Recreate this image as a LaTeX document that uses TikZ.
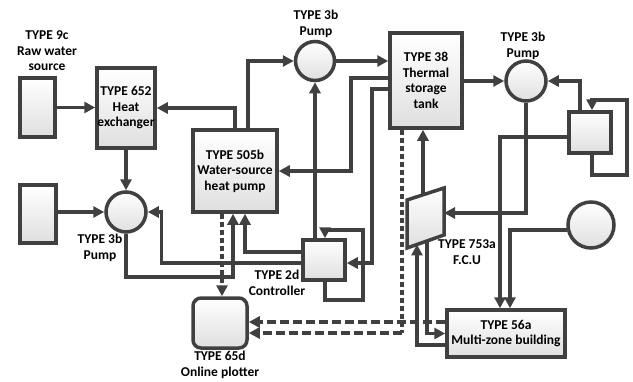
\documentclass[tikz,border=0pt]{standalone}
\usepackage{fontspec}
\setmainfont{Carlito}
\usetikzlibrary{arrows.meta,calc}
\definecolor{dk}{HTML}{404040}
\begin{document}
\begin{tikzpicture}[x=1pt,y=-1pt,
  every node/.style={font=\fontsize{13.5}{15.5}\selectfont\bfseries, align=center, inner sep=0pt, text=black},
  ln/.style={draw=dk, line width=3.5pt},
  arr/.style={ln, -{Triangle[length=11pt,width=11pt]}},
  fillst/.style={draw=dk, line width=3.5pt, top color=white, bottom color=gray!25},
  blk/.style={fillst, rectangle},
  pmp/.style={fillst, circle},
  dsh/.style={dash pattern=on 9pt off 4pt},
  dts/.style={dash pattern=on 5pt off 3pt}]
\useasboundingbox (0,0) rectangle (633,381);
% blocks
\node[blk, minimum width=35pt, minimum height=59pt] (raw) at (37.5,107.5) {};
\node[blk, minimum width=58pt, minimum height=80pt] (hx) at (126,108) {TYPE 652\\Heat\\exchanger};
\node[blk, minimum width=84pt, minimum height=82pt] (hp) at (235,171) {TYPE 505b\\Water-source\\heat pump};
\node[blk, minimum width=72pt, minimum height=95pt] (tank) at (426,80.5) {TYPE 38\\Thermal\\storage\\tank};
\node[blk, minimum width=42pt, minimum height=40pt] (ctrl) at (324,260) {};
\node[blk, minimum width=42pt, minimum height=41pt] (ctrlb) at (590,132.5) {};
\node[blk, minimum width=36pt, minimum height=58pt] (src) at (38,214) {};
\node[pmp, minimum size=40pt] (pumpa) at (126,212) {};
\node[pmp, minimum size=39pt] (pumpb) at (315,61) {};
\node[pmp, minimum size=40pt] (pumpc) at (526,81) {};
\node[pmp, minimum size=46pt] (circd) at (591,225) {};
\node[blk, rounded corners=8pt, minimum width=54pt, minimum height=50pt] (plot) at (220,323) {};
\node[blk, minimum width=118pt, minimum height=47pt] (bld) at (506,333.5) {TYPE 56a\\Multi-zone building};
% FCU
\coordinate (f1) at (407,200);
\coordinate (f2) at (444,188);
\coordinate (f3) at (444,235);
\coordinate (f4) at (407,248);
\path[fillst] (f1) -- (f2) -- (f3) -- (f4) -- cycle;
\coordinate (fcutop) at ($(f1)!0.432!(f2)$);
\coordinate (fcub1) at ($(f4)!0.27!(f3)$);
\coordinate (fcub2) at ($(f4)!0.54!(f3)$);
\coordinate (fcur) at ($(f2)!0.532!(f3)$);
% labels
\node (l9c) at (47,51) {TYPE 9c\\Raw water\\source};
\node (lpb) at (316,24) {TYPE 3b\\Pump};
\node (lpc) at (523,46) {TYPE 3b\\Pump};
\node (lpa) at (100,248) {TYPE 3b\\Pump};
\node (lct) at (277,283) {TYPE 2d\\Controller};
\node (lpl) at (220,365) {TYPE 65d\\Online plotter};
\node (lfc) at (467,252) {TYPE 753a\\F.C.U};
% connectors
\draw[arr] (raw.east) -- (raw.east -| hx.west);
\draw[arr] (src.east |- pumpa.west) -- (pumpa.west);
\draw[arr] (hx.south) -- (pumpa.north);
\draw[arr] (hp.north) |- (hx.east);
\draw[arr] ([xshift=13pt]hp.north) |- (pumpb.west);
\draw[arr] (pumpb.east) -- (pumpb.east -| tank.west);
\coordinate (t1) at (tank.west |- 0,78);
\coordinate (t1b) at (351,78);
\draw[arr] (t1) -- (t1b) |- (hp.east);
\coordinate (t2) at (tank.west |- 0,89);
\coordinate (t2b) at (372,89);
\draw[arr] (t2) -- (t2b) |- ([yshift=-3pt]ctrl.east);
\draw[arr] (ctrl.north -| pumpb.south) -- (pumpb.south);
\draw[arr] ([xshift=1pt]ctrl.south) -- ++(0,18) -| ++(38,-70) -| ([xshift=1pt]ctrl.north);
\draw[arr] ([yshift=8pt]ctrl.west) -| ([xshift=10pt]hp.south);
\draw[arr] ([yshift=-3pt]ctrl.west) -- ++(-140,0) |- (pumpa.east);
\draw[arr] (pumpa.south) -- ++(0,43) -| ([xshift=-2pt]hp.south);
\draw[arr,dts] ([xshift=-13pt]hp.south) -- ([xshift=-13pt]hp.south |- plot.north);
\draw[arr,dsh] ([yshift=11.5pt]bld.west) -- ([yshift=11.5pt]bld.west -| plot.east);
\coordinate (dc) at (402,333);
\draw[ln,dts] ([xshift=-24pt]tank.south) -- (dc);
\draw[arr,dsh] (dc) -- (dc -| plot.east);
\draw[arr] (fcutop) -- (fcutop |- tank.south);
\draw[arr] ([yshift=-11.5pt]bld.west) -| (fcub1);
\draw[arr] (fcub2) |- (bld.west);
\draw[arr] (pumpc.south) |- (fcur);
\draw[arr] (tank.east |- pumpc.west) -- (pumpc.west);
\draw[arr] ([xshift=-10pt]ctrlb.north) |- (pumpc.east);
\draw[arr] ([xshift=2pt]ctrlb.south) -- ++(0,20) -| ++(35,-75) -| ([xshift=2pt]ctrlb.north);
\draw[arr] ([yshift=-4.5pt]ctrlb.west) -| ([xshift=-6pt]bld.north);
\draw[arr] (circd.192) -| ([xshift=4pt]bld.north);
\end{tikzpicture}
\end{document}
